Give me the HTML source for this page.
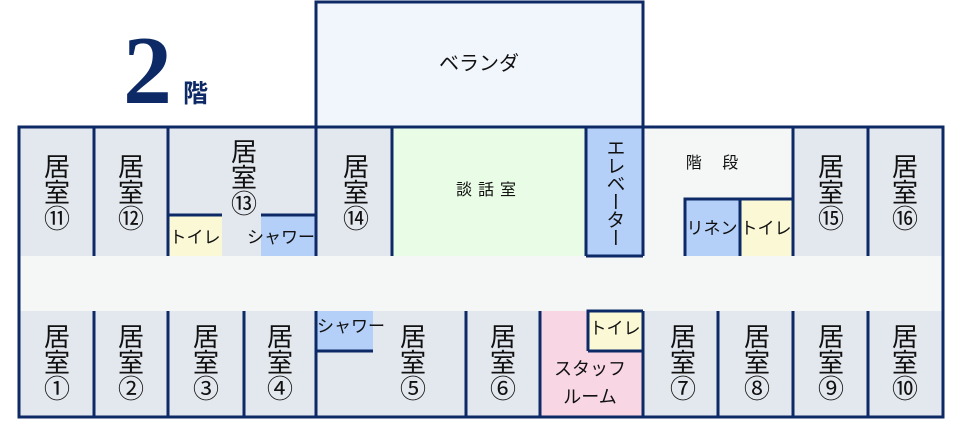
<!DOCTYPE html>
<html><head><meta charset="utf-8"><style>
body{margin:0;background:#fff}
svg text{font-family:"Liberation Sans","Noto Sans CJK JP",sans-serif;fill:#111}
</style></head><body>
<svg width="960" height="420" viewBox="0 0 960 420" xmlns="http://www.w3.org/2000/svg">
<rect x="316" y="2" width="327" height="125" fill="#f1f5fc" stroke="#0d2a66" stroke-width="3"/>
<rect x="19" y="127" width="924" height="290" fill="#e3e7ee"/>
<rect x="19" y="256" width="924" height="55" fill="#f5f7f7"/>
<rect x="392" y="127" width="194" height="129" fill="#e9fde6"/>
<rect x="586" y="127" width="57" height="129" fill="#b4d0f8"/>
<rect x="643" y="127" width="150" height="129" fill="#f5f7f7"/>
<rect x="685" y="199" width="55" height="57" fill="#b4d0f8"/>
<rect x="740" y="199" width="53" height="57" fill="#fbf8d6"/>
<rect x="168" y="215" width="54" height="41" fill="#fbf8d6"/>
<rect x="261" y="215" width="55" height="41" fill="#b4d0f8"/>
<rect x="316" y="311" width="57" height="40" fill="#b4d0f8"/>
<rect x="540" y="311" width="103" height="106" fill="#f8d6e4"/>
<rect x="588" y="311" width="55" height="40" fill="#fbf8d6"/>
<g stroke="#0d2a66" stroke-width="3" fill="none">
<rect x="19" y="127" width="924" height="290"/>
<path d="M94 127V256M168 127V256M316 127V256M392 127V256M586 127V256M643 127V256M793 127V256M868 127V256"/>
<path d="M168 215H222M261 215H316V256M586 256H643M685 256V199H793M740 199V256"/>
<path d="M94 311V417M168 311V417M244 311V417M316 311V417M466 311V417M540 311V417M643 311V417M718 311V417M793 311V417M868 311V417"/>
<path d="M316 351H373M588 351V311H643M588 351H643"/>
</g>
<text x="123" y="103" style="font-family:'Liberation Serif',serif;font-weight:bold;fill:#0d2a66" font-size="98">2</text>
<text x="183" y="102" font-size="25" font-weight="bold" style="fill:#0d2a66">階</text>
<text x="479" y="70" font-size="20" text-anchor="middle">ベランダ</text>
<text x="489" y="195" font-size="16" text-anchor="middle" letter-spacing="6">談話室</text>
<text x="712" y="168" font-size="16" text-anchor="middle">階　 段</text>
<g font-size="17" text-anchor="middle">
<text x="195" y="243">トイレ</text>
<text x="281" y="243">シャワー</text>
<text x="712" y="234">リネン</text>
<text x="766" y="234">トイレ</text>
<text x="351" y="332">シャワー</text>
<text x="615" y="334">トイレ</text>
<text x="590" y="375" font-size="18">スタッフ</text>
<text x="590" y="403" font-size="18">ルーム</text>
</g>
<text x="614" y="138" font-size="19" style="writing-mode:vertical-rl;letter-spacing:-1px">エレベーター</text>
<g font-size="26" text-anchor="middle">
<text x="57" y="176">居</text><text x="57" y="202">室</text><text x="57" y="228">⑪</text>
<text x="131" y="176">居</text><text x="131" y="202">室</text><text x="131" y="228">⑫</text>
<text x="244" y="161">居</text><text x="244" y="187">室</text><text x="244" y="213">⑬</text>
<text x="356" y="176">居</text><text x="356" y="202">室</text><text x="356" y="228">⑭</text>
<text x="831" y="176">居</text><text x="831" y="202">室</text><text x="831" y="228">⑮</text>
<text x="905" y="176">居</text><text x="905" y="202">室</text><text x="905" y="228">⑯</text>
<text x="57" y="346">居</text><text x="57" y="372">室</text><text x="57" y="398">①</text>
<text x="131" y="346">居</text><text x="131" y="372">室</text><text x="131" y="398">②</text>
<text x="206" y="346">居</text><text x="206" y="372">室</text><text x="206" y="398">③</text>
<text x="280" y="346">居</text><text x="280" y="372">室</text><text x="280" y="398">④</text>
<text x="413" y="346">居</text><text x="413" y="372">室</text><text x="413" y="398">⑤</text>
<text x="503" y="346">居</text><text x="503" y="372">室</text><text x="503" y="398">⑥</text>
<text x="683" y="346">居</text><text x="683" y="372">室</text><text x="683" y="398">⑦</text>
<text x="757" y="346">居</text><text x="757" y="372">室</text><text x="757" y="398">⑧</text>
<text x="831" y="346">居</text><text x="831" y="372">室</text><text x="831" y="398">⑨</text>
<text x="905" y="346">居</text><text x="905" y="372">室</text><text x="905" y="398">⑩</text>
</g>
</svg>
</body></html>
